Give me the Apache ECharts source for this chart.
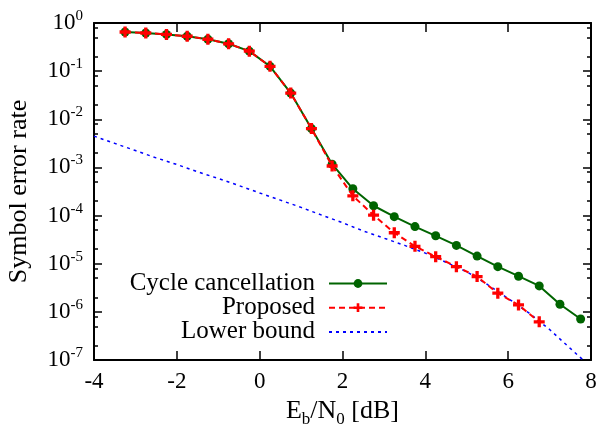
<!DOCTYPE html>
<html>
<head>
<meta charset="utf-8">
<script src="https://cdn.jsdelivr.net/npm/echarts@6/dist/echarts.min.js"></script>
<style>html,body{margin:0;padding:0;background:#fff;}#c{width:601px;height:424px;}</style>
</head>
<body>
<div id="c"></div>
<script>
// ---- data ----
var xCycle = [-3.25,-2.75,-2.25,-1.75,-1.25,-0.75,-0.25,0.25,0.75,1.25,1.75,2.25,2.75,3.25,3.75,4.25,4.75,5.25,5.75,6.25,6.75,7.25,7.75];
var cycleCancellation = [0.65,0.62,0.58,0.53,0.46,0.37,0.26,0.126,0.035,6.4e-3,1.17e-3,3.6e-4,1.6e-4,9.5e-5,5.9e-5,3.8e-5,2.4e-5,1.44e-5,8.7e-6,5.5e-6,3.46e-6,1.44e-6,7.1e-7];
var xProposed = [-3.25,-2.75,-2.25,-1.75,-1.25,-0.75,-0.25,0.25,0.75,1.25,1.75,2.25,2.75,3.25,3.75,4.25,4.75,5.25,5.75,6.25,6.75];
var proposed = [0.65,0.62,0.58,0.53,0.46,0.37,0.26,0.126,0.035,6.4e-3,1.07e-3,2.57e-4,1.02e-4,4.4e-5,2.3e-5,1.4e-5,8.7e-6,5.4e-6,2.44e-6,1.39e-6,6.2e-7];
var xBound = [-4,-3.5,-3,-2.5,-2,-1.5,-1,-0.5,0,0.5,1,1.5,2,2.5,3,3.5,4,4.5,5,5.5,6,6.5,7,7.5,7.85];
var lowerBound = [4.47e-3,3.16e-3,2.24e-3,1.58e-3,1.15e-3,8.1e-4,5.9e-4,4.2e-4,2.95e-4,2.09e-4,1.48e-4,1.02e-4,7.1e-5,4.8e-5,3.4e-5,2.4e-5,1.66e-5,1.07e-5,6.8e-6,3.7e-6,1.9e-6,9.5e-7,4.3e-7,1.74e-7,9.3e-8];
var seriesNames = ['Cycle cancellation','Proposed','Lower bound'];
var xTicks = [-4,-2,0,2,4,6,8];
var yMajorTicks = [1,1e-1,1e-2,1e-3,1e-4,1e-5,1e-6,1e-7];
var yMinorMantissas = [8,5,2];

// ---- build ----
function pairs(xs, ys){ return xs.map(function(x,i){ return [x, ys[i]]; }); }
var yMinorTicks = [];
yMajorTicks.slice(1).forEach(function(d){ yMinorMantissas.forEach(function(m){ yMinorTicks.push(m*d); }); });

var FONT = 'Liberation Serif';
var plusPath = 'path://M3.5,0 h3 v3.5 h3.5 v3 h-3.5 v3.5 h-3 v-3.5 h-3.5 v-3 h3.5 z';

function yAxisBase(pos, ticks, len, showLine, labels){
  return {
    type: 'log', logBase: 10, min: 1e-7, max: 1, position: pos, offset: 0,
    axisLine: { show: showLine, onZero: false, lineStyle: { color: '#000', width: 2 } },
    axisTick: { show: true, inside: true, length: len, customValues: ticks, lineStyle: { color: '#000', width: 1.5 } },
    minorTick: { show: false },
    splitLine: { show: false },
    axisLabel: labels ? {
      show: true, margin: 11, customValues: yMajorTicks,
      formatter: function(v){ var e = Math.round(Math.log10(v)); return '{b|10}{s|' + e + '}'; },
      rich: {
        b: { fontFamily: FONT, fontSize: 23, lineHeight: 23, color: '#000', verticalAlign: 'bottom' },
        s: { fontFamily: FONT, fontSize: 15, lineHeight: 15, color: '#000', verticalAlign: 'bottom', padding: [0,0,11,0] }
      }
    } : { show: false }
  };
}

var yAxes = [
  Object.assign(yAxisBase('left', yMajorTicks, 8, true, true), {
    name: 'Symbol error rate', nameLocation: 'middle', nameGap: 62,
    nameTextStyle: { fontFamily: FONT, fontSize: 26, color: '#000' }
  }),
  yAxisBase('left', yMinorTicks, 4, false, false),
  yAxisBase('right', yMajorTicks, 8, true, false),
  yAxisBase('right', yMinorTicks, 4, false, false)
];

var option = {
  animation: false,
  backgroundColor: '#fff',
  grid: { left: 94, right: 10, top: 23, bottom: 64, containLabel: false, outerBoundsMode: 'none' },
  xAxis: [
    {
      type: 'value', min: -4, max: 8, interval: 2, position: 'bottom',
      axisLine: { onZero: false, lineStyle: { color: '#000', width: 2 } },
      axisTick: { inside: true, length: 9, lineStyle: { color: '#000', width: 1.5 } },
      splitLine: { show: false },
      axisLabel: { margin: 10, fontFamily: FONT, fontSize: 23, color: '#000', customValues: xTicks },
      name: 'E{sub|b}/N{sub|0} [dB]', nameLocation: 'middle', nameGap: 33,
      nameTextStyle: {
        fontFamily: FONT, fontSize: 26, color: '#000',
        rich: {
          sub: { fontFamily: FONT, fontSize: 17, lineHeight: 17, color: '#000', verticalAlign: 'top', padding: [13,0,0,0] }
        }
      }
    },
    {
      type: 'value', min: -4, max: 8, interval: 2, position: 'top',
      axisLine: { onZero: false, lineStyle: { color: '#000', width: 2 } },
      axisTick: { inside: true, length: 9, lineStyle: { color: '#000', width: 1.5 } },
      splitLine: { show: false },
      axisLabel: { show: false }
    }
  ],
  yAxis: yAxes,
  legend: seriesNames.map(function(n, i){
    var l = {
      data: [n], orient: 'vertical', right: 213, top: 271 + i*24.2, align: 'right', padding: 0,
      itemWidth: 58, itemHeight: 11,
      textStyle: { fontFamily: FONT, fontSize: 25, lineHeight: 24, color: '#000', padding: [0,9,0,0] }
    };
    if (i === 2) { l.itemStyle = { opacity: 0 }; }
    return l;
  }),
  series: [
    {
      name: seriesNames[0], type: 'line', xAxisIndex: 0, yAxisIndex: 0,
      data: pairs(xCycle, cycleCancellation),
      symbol: 'circle', symbolSize: 9, showAllSymbol: true,
      lineStyle: { color: '#006400', width: 2 },
      itemStyle: { color: '#006400' }, z: 2
    },
    {
      name: seriesNames[1], type: 'line', xAxisIndex: 0, yAxisIndex: 0,
      data: pairs(xProposed, proposed),
      symbol: plusPath, symbolSize: 11, showAllSymbol: true,
      lineStyle: { color: '#ff0000', width: 2, type: [6,4] },
      itemStyle: { color: '#ff0000' }, z: 3
    },
    {
      name: seriesNames[2], type: 'line', xAxisIndex: 0, yAxisIndex: 0,
      data: pairs(xBound, lowerBound),
      symbol: 'none', clip: true,
      lineStyle: { color: '#0000ff', width: 1.5, type: [3,4] },
      itemStyle: { color: '#0000ff' }, z: 1
    }
  ]
};
var chart = echarts.init(document.getElementById('c'), null, { renderer: 'canvas' });
chart.setOption(option);
</script>
</body>
</html>
